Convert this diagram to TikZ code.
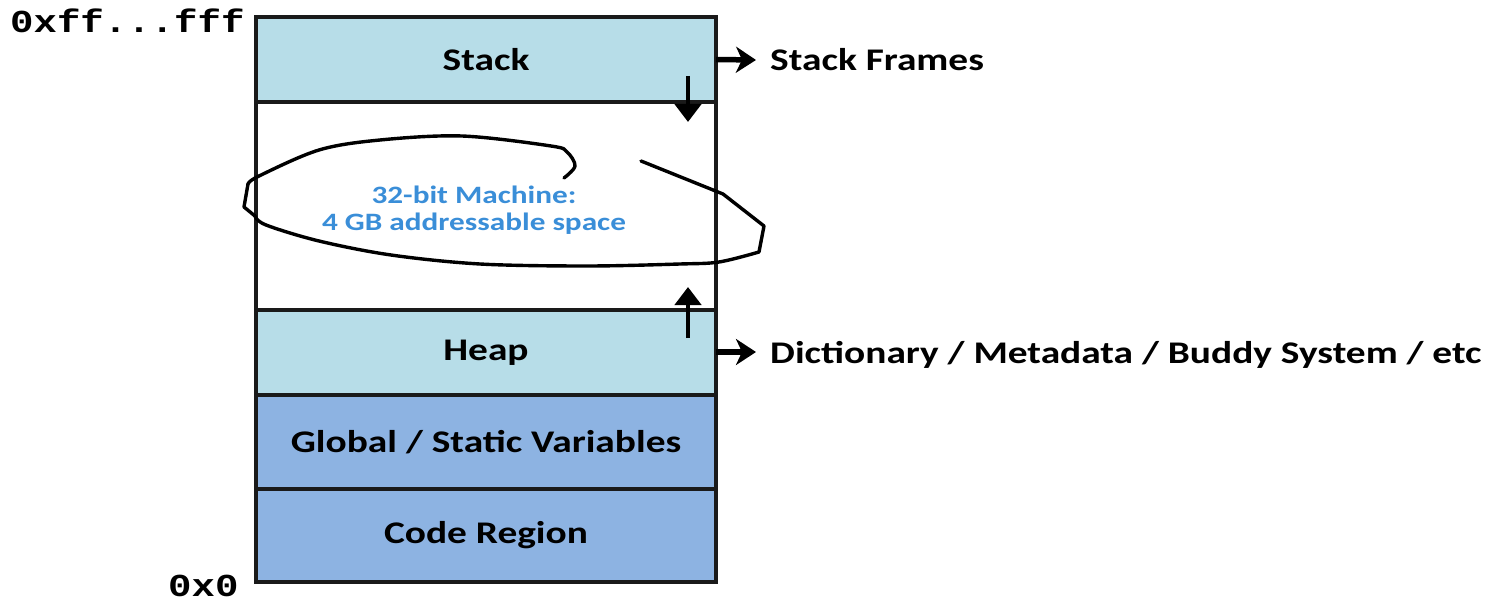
\documentclass[tikz,border=0pt]{standalone}
\usepackage{fontspec}
\setmainfont{Carlito}[FakeStretch=1.25]
\newfontfamily\addrfont{Liberation Mono}[FakeStretch=1.22]
\usetikzlibrary{arrows.meta}
\definecolor{lightseg}{HTML}{B7DDE8}
\definecolor{darkseg}{HTML}{8DB3E2}
\definecolor{notecol}{HTML}{3A8ED8}
\definecolor{edgecol}{HTML}{1A1A1A}

\begin{document}
\begin{tikzpicture}[x=1pt,y=-1pt,
  seg/.style={draw=edgecol, line width=3.2pt, minimum width=460pt,
    inner sep=0pt, outer sep=0pt,
    font=\fontsize{31.5}{34}\selectfont\bfseries},
  sidelabel/.style={anchor=base west, inner sep=0pt,
    font=\fontsize{31.5}{34}\selectfont\bfseries},
  addr/.style={inner sep=0pt, font=\fontsize{32}{34}\addrfont\bfseries},
  growarrow/.style={line width=4.5pt, -{Triangle[length=18pt,width=26pt]}},
  sidearrow/.style={line width=5.5pt, -{Stealth[length=20pt,width=26pt,inset=6pt]}},
  scribble/.style={line width=3.4pt, line cap=round, line join=round},
  note/.style={align=center, text=notecol, font=\fontsize{25}{27}\selectfont\bfseries}
]
\useasboundingbox (0,0) rectangle (1505,604);

% memory segments, top (high addresses) to bottom
\node[seg, minimum height=208pt] (free) at (486,206) {};
\node[seg, fill=lightseg, minimum height=85pt] (stack) at (486,59.5) {Stack};
\node[seg, fill=lightseg, minimum height=85pt] (heap) at (486,352.5) {Heap};
\node[seg, fill=darkseg, minimum height=94pt] (global) at (486,442) {Global / Static Variables};
\node[seg, fill=darkseg, minimum height=93pt] (code) at (486,535.5) {Code Region};

% address labels
\node[addr, anchor=west] (hi) at (10,21) {0xff...fff};
\node[addr, anchor=west] (lo) at (168,586) {0x0};

% growth directions
\coordinate (stackFrom) at (688,76);
\coordinate (stackTo) at (688,122);
\coordinate (heapFrom) at (688,338);
\coordinate (heapTo) at (688,287);
\draw[growarrow] (stackFrom) -- (stackTo);
\draw[growarrow] (heapFrom) -- (heapTo);

% side annotations
\node[sidelabel] (frames) at (770,71) {Stack Frames};
\node[sidelabel] (alloc) at (770,363) {Dictionary / Metadata / Buddy System / etc};
\coordinate (framesTip) at (756,60);
\coordinate (allocTip) at (756,352);
\draw[sidearrow] (stack.east) -- (framesTip);
\draw[sidearrow] (heap.east |- allocTip) -- (allocTip);

% hand-drawn loop around the address-space note
\draw[scribble] plot[smooth, tension=0.55] coordinates {
  (564,178) (575,166) (567,152) (551,146) (462,136) (380,140) (319,150)
  (259,176) (248,184)};
\draw[scribble] (248,184) -- (244,207) -- (255,216);
\draw[scribble] plot[smooth, tension=0.55] coordinates {
  (255,216) (266,225) (319,241) (391,255) (480,264) (587,266) (680,264) (719,262) (759,252)};
\draw[scribble] (759,252) -- (764,226) -- (723,194) -- (641,161);

\node[note] (space) at (474,210) {32-bit Machine:\\4 GB addressable space};
\end{tikzpicture}
\end{document}
